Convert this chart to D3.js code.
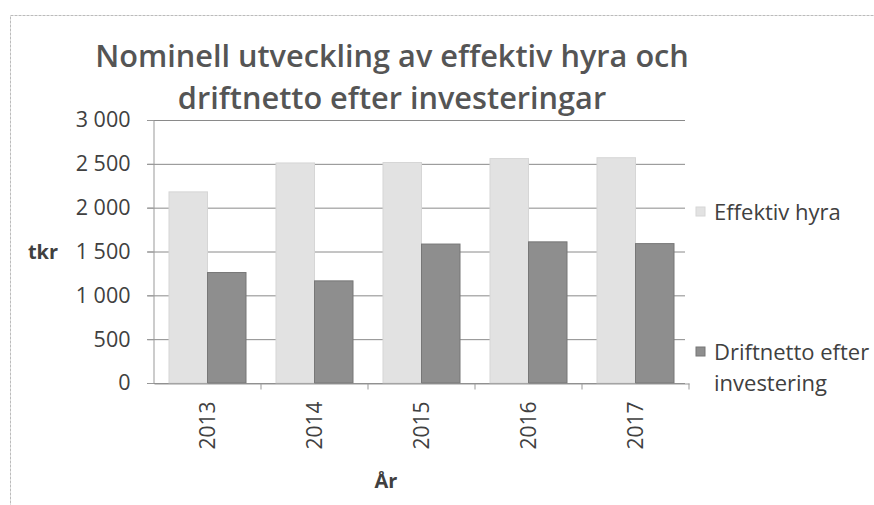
<!DOCTYPE html>
<meta charset="utf-8">
<script src="https://cdn.jsdelivr.net/npm/d3@7"></script>
<style>
  body { margin: 0; background: #fff; font-family: "Open Sans", sans-serif; }
  text { fill: #404040; }
</style>
<body>
<div id="chart"></div>
<script>
// data
const years = ["2013", "2014", "2015", "2016", "2017"];
const seriesNames = ["Effektiv hyra", "Driftnetto efter investering"];
const hyra = [2180, 2510, 2515, 2560, 2570];
const driftnetto = [1260, 1165, 1585, 1610, 1590];
const yTicks = [0, 500, 1000, 1500, 2000, 2500, 3000];
const titleLines = ["Nominell utveckling av effektiv hyra och", "driftnetto efter investeringar"];

const width = 874, height = 505;
const plot = {left: 154, right: 689, top: 120, bottom: 383};
const colors = ["#e2e2e2", "#8e8e8e"];
const strokes = ["#d6d6d6", "#777"];

const svg = d3.select("#chart").append("svg")
  .attr("width", width)
  .attr("height", height);

// chart frame
svg.append("rect")
  .attr("x", 10.5).attr("y", 15.5)
  .attr("width", 880).attr("height", 520)
  .attr("fill", "none")
  .attr("stroke", "#bbb")
  .attr("stroke-dasharray", "3,1");

// title
svg.selectAll(".title").data(titleLines).enter().append("text")
  .attr("class", "title")
  .attr("x", 392)
  .attr("y", (d, i) => 67 + i * 42)
  .attr("text-anchor", "middle")
  .style("font-size", "30.7px")
  .style("font-weight", "600")
  .style("fill", "#555")
  .text(d => d);

const x = d3.scaleBand().domain(years).range([plot.left, plot.right]);
const xInner = d3.scaleBand().domain([0, 1])
  .range([15, x.bandwidth() - 15]);
const y = d3.scaleLinear().domain([0, 3000]).range([plot.bottom, plot.top]);

// gridlines
svg.selectAll(".grid").data(yTicks).enter().append("line")
  .attr("x1", plot.left - 7).attr("x2", plot.right - 4)
  .attr("y1", d => y(d) + 0.5).attr("y2", d => y(d) + 0.5)
  .attr("stroke", "#8a8a8a")
  .attr("stroke-width", 1);

// bars
const groups = svg.selectAll(".yr").data(years).enter().append("g")
  .attr("transform", d => `translate(${x(d)},0)`);

[hyra, driftnetto].forEach((vals, s) => {
  groups.append("rect")
    .attr("x", xInner(s))
    .attr("width", xInner.bandwidth())
    .attr("y", (d, i) => y(vals[i]))
    .attr("height", (d, i) => y(0) - y(vals[i]))
    .attr("fill", colors[s])
    .attr("stroke", strokes[s])
    .attr("stroke-width", 1);
});

// y axis
const yAxis = svg.append("g")
  .attr("transform", `translate(${plot.left - 0.5},0)`)
  .call(d3.axisLeft(y).tickValues(yTicks).tickSize(6)
    .tickFormat(d => d3.format(",")(d).replace(",", " ")));
yAxis.select(".domain").attr("stroke", "#999");
yAxis.selectAll(".tick line").attr("stroke", "#999");
yAxis.selectAll("text")
  .attr("x", -23)
  .style("font-size", "21.5px")
  .style("font-family", "Open Sans, sans-serif")
  .style("fill", "#404040");

// x axis
const xAxis = svg.append("g")
  .attr("transform", `translate(0,${plot.bottom + 0.5})`)
  .call(d3.axisBottom(x).tickSize(0));
xAxis.select(".domain").attr("stroke", "#999");
xAxis.selectAll("text")
  .attr("transform", "rotate(-90)")
  .attr("x", -18).attr("y", 0).attr("dy", "0.35em")
  .attr("text-anchor", "end")
  .style("font-size", "21px")
  .style("font-family", "Open Sans, sans-serif")
  .style("fill", "#404040");
// category boundary ticks
xAxis.selectAll(".bnd").data(years.slice(1).concat(["end"])).enter().append("line")
  .attr("x1", (d, i) => plot.left + (i + 1) * x.step())
  .attr("x2", (d, i) => plot.left + (i + 1) * x.step())
  .attr("y1", 0).attr("y2", 6)
  .attr("stroke", "#999");

// axis titles
svg.append("text")
  .attr("x", 43).attr("y", 259)
  .attr("text-anchor", "middle")
  .style("font-size", "20px").style("font-weight", "bold")
  .text("tkr");
svg.append("text")
  .attr("x", 386).attr("y", 488)
  .attr("text-anchor", "middle")
  .style("font-size", "20px").style("font-weight", "bold")
  .text("År");

// legend
const legend = [
  {lines: [seriesNames[0]], y: 212},
  {lines: ["Driftnetto efter", "investering"], y: 352}
];
legend.forEach((l, s) => {
  svg.append("rect")
    .attr("x", 696).attr("y", l.y - 5)
    .attr("width", 9).attr("height", 9)
    .attr("fill", colors[s]).attr("stroke", strokes[s]);
  l.lines.forEach((t, j) => {
    svg.append("text")
      .attr("x", 714).attr("y", l.y + 8 + j * 31)
      .style("font-size", "22px")
      .text(t);
  });
});
</script>
</body>
